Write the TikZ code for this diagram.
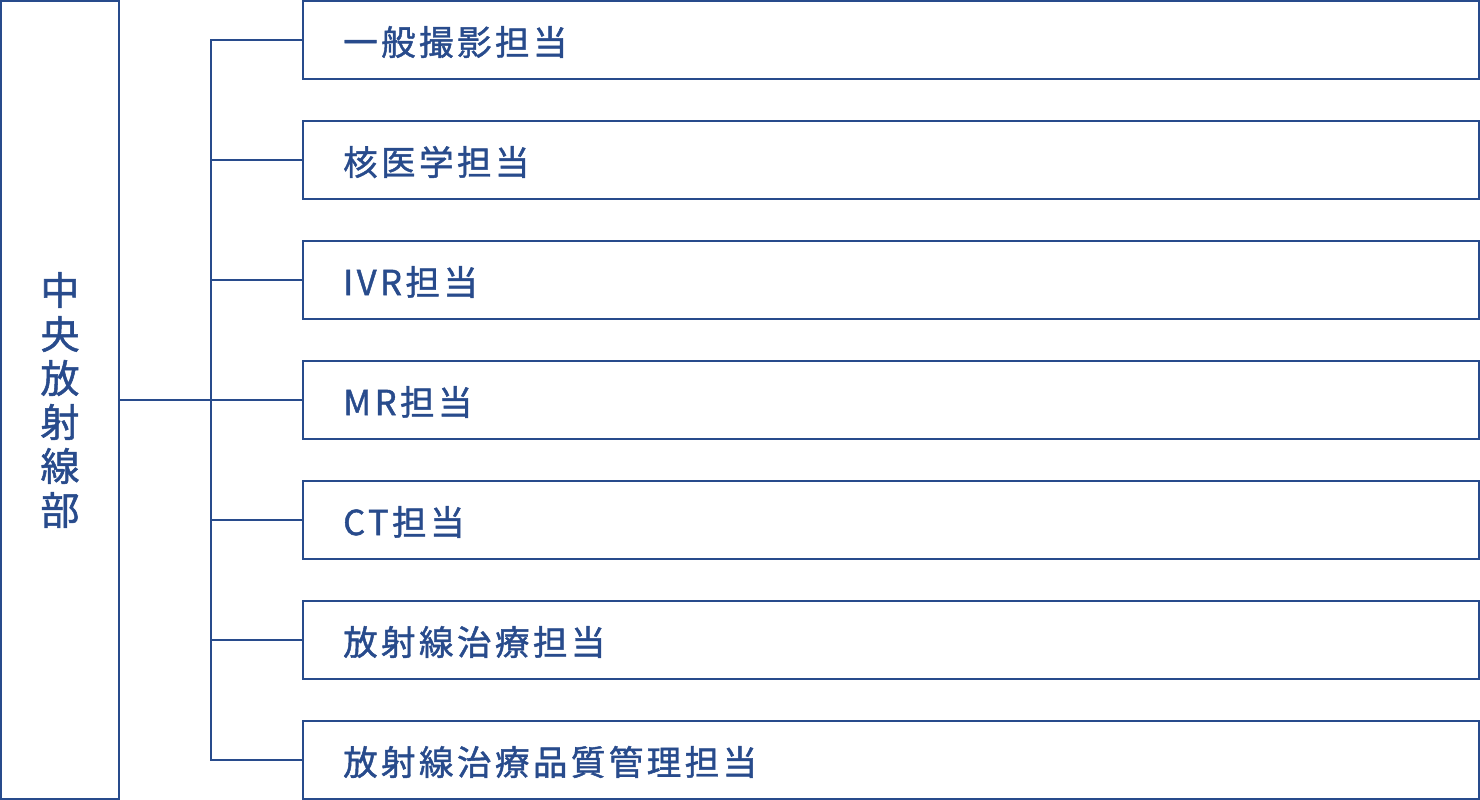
\documentclass[tikz,border=0pt]{standalone}
\usepackage{fontspec}
\newfontfamily\jpfont[LetterSpace=10,FakeBold=1.3]{Noto Sans CJK JP}
\newfontfamily\jpvfont[FakeBold=1.3]{Noto Sans CJK JP}
\definecolor{bublue}{RGB}{40,75,140}
\begin{document}
\begin{tikzpicture}[x=1pt,y=-1pt]
		\tikzstyle{Bu} = [rectangle, minimum width=118pt, minimum height=798pt, inner sep=0pt, draw=bublue, line width=2pt, fill=white, align=center, text=bublue, font=\jpvfont\fontsize{39}{44}\selectfont]
		\tikzstyle{Tanto} = [rectangle, minimum width=1176pt, minimum height=78pt, inner sep=0pt, draw=bublue, line width=2pt, fill=white]
		\tikzstyle{Label} = [anchor=west, inner sep=0pt, text=bublue, font=\jpfont\fontsize{34.5}{40}\selectfont]
		\tikzstyle{line} = [line width=2pt, draw=bublue]
		
		\useasboundingbox (0,0) rectangle (1480,800);
		\node (bu) [Bu] at (60,400) {中\\央\\放\\射\\線\\部};
		\node (tanto1) [Tanto] at (891,40) {};
		\node (tanto2) [Tanto] at (891,160) {};
		\node (tanto3) [Tanto] at (891,280) {};
		\node (tanto4) [Tanto] at (891,400) {};
		\node (tanto5) [Tanto] at (891,520) {};
		\node (tanto6) [Tanto] at (891,640) {};
		\node (tanto7) [Tanto] at (891,760) {};
		\node [Label] at (343,42) {一般撮影担当};
		\node [Label] at (343,162) {核医学担当};
		\node [Label] at (343,282) {IVR担当};
		\node [Label] at (343,402) {MR担当};
		\node [Label] at (343,522) {CT担当};
		\node [Label] at (343,642) {放射線治療担当};
		\node [Label] at (343,762) {放射線治療品質管理担当};
		\coordinate (trunkTop) at (211,40);
		\coordinate (trunkBottom) at (211,760);
		\draw [line] (tanto1.west) -- (trunkTop) -- (trunkBottom) -- (tanto7.west);
		\draw [line] (bu.east) -- (tanto4.west);
		\draw [line] (tanto2.west) -- (tanto2.west -| trunkTop);
		\draw [line] (tanto3.west) -- (tanto3.west -| trunkTop);
		\draw [line] (tanto5.west) -- (tanto5.west -| trunkTop);
		\draw [line] (tanto6.west) -- (tanto6.west -| trunkTop);
		\end{tikzpicture}
\end{document}
